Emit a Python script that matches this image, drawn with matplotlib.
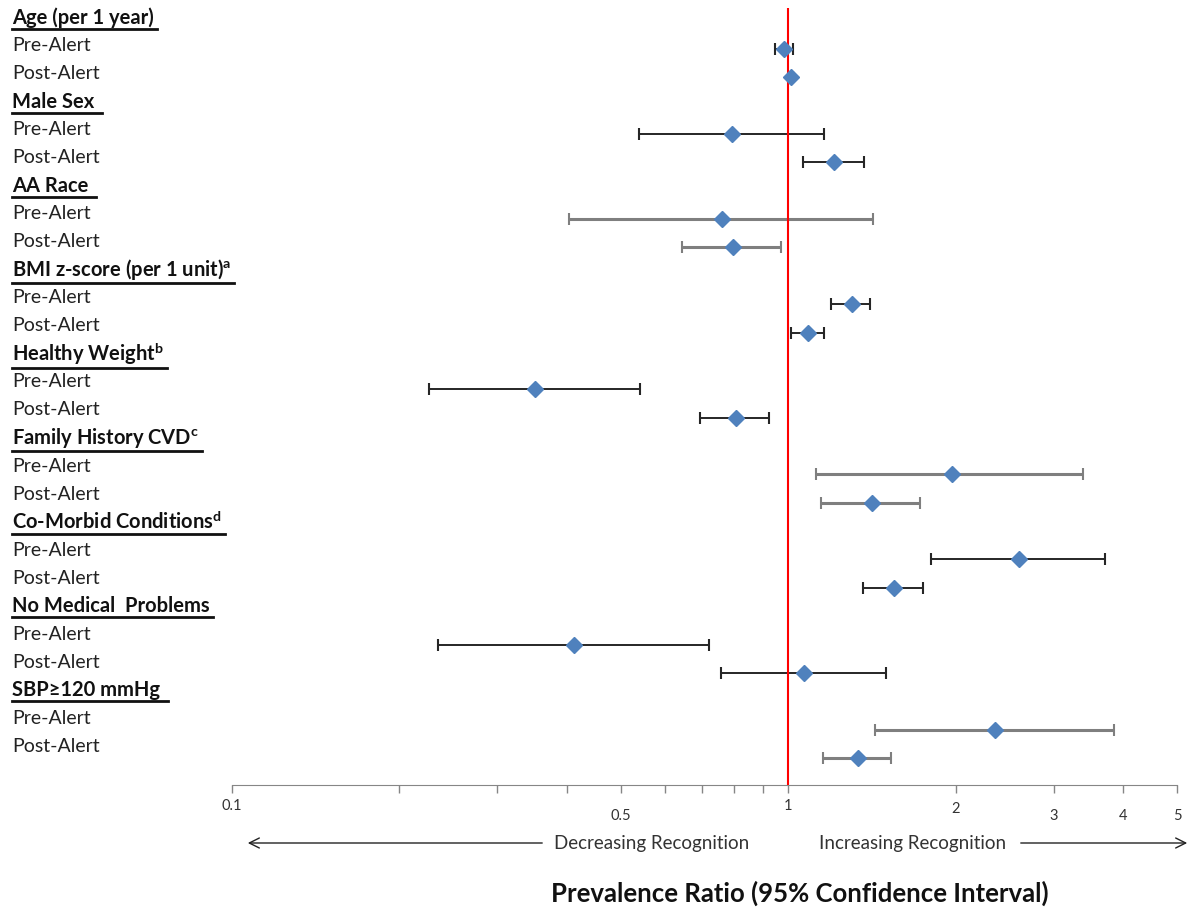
import matplotlib
matplotlib.use('Agg')
import matplotlib.pyplot as plt
import matplotlib.transforms as mtransforms
from matplotlib.lines import Line2D
import numpy as np

plt.rcParams['font.family'] = ['Lato', 'DejaVu Sans']

# prevalence ratios with 95% CI, one entry per variable
groups = ['Age (per 1 year)', 'Male Sex ', 'AA Race ', 'BMI z-score (per 1 unit)',
          'Healthy Weight', 'Family History CVD', 'Co-Morbid Conditions',
          'No Medical  Problems', 'SBP\u2265120 mmHg ']
notes = ['', '', '', 'a', 'b', 'c', 'd', '', '']
pre_pr = [0.982, 0.794, 0.759, 1.300, 0.351, 1.966, 2.597, 0.412, 2.355]
pre_lo = [0.947, 0.539, 0.404, 1.196, 0.226, 1.124, 1.808, 0.235, 1.430]
pre_hi = [1.018, 1.161, 1.418, 1.404, 0.542, 3.395, 3.710, 0.721, 3.860]
post_pr = [1.013, 1.210, 0.795, 1.084, 0.804, 1.412, 1.552, 1.068, 1.335]
post_lo = [1.005, 1.061, 0.645, 1.010, 0.693, 1.143, 1.362, 0.756, 1.154]
post_hi = [1.020, 1.367, 0.972, 1.161, 0.924, 1.725, 1.744, 1.500, 1.532]
gray_bars = ['AA Race ', 'Family History CVD', 'SBP\u2265120 mmHg ']
tick_vals = [0.1, 0.5, 1, 2, 3, 4, 5]
minor_vals = [0.2, 0.3, 0.4, 0.6, 0.7, 0.8, 0.9]

W, H = 1199, 911
fig = plt.figure(figsize=(W / 100, H / 100), dpi=100)
ax = fig.add_axes([232 / W, 1 - 785 / H, (1177 - 232) / W, (785 - 8) / H])
ax.set_xscale('log')
ax.set_xlim(0.1, 5)
ax.set_ylim(26.95, -0.44)

for s in ['left', 'top', 'right']:
    ax.spines[s].set_visible(False)
ax.spines['bottom'].set_color('#868686')
ax.set_yticks([])
ax.set_xticks(sorted(tick_vals + minor_vals))
ax.xaxis.set_minor_locator(matplotlib.ticker.NullLocator())
ax.set_xticklabels([])
ax.tick_params(axis='x', direction='out', length=6, color='#868686', width=1)

ax.axvline(1, color='red', lw=1.5, zorder=3)

mcol = '#4F81BD'
for i, g in enumerate(groups):
    for k, (pr, lo, hi) in enumerate([(pre_pr[i], pre_lo[i], pre_hi[i]),
                                      (post_pr[i], post_lo[i], post_hi[i])]):
        y = 3 * i + 1 + k
        if g in gray_bars:
            ec, lw = '#7f7f7f', 2.2
        else:
            ec, lw = '#262626', 1.4
        line, caps, bars = ax.errorbar([pr], [y], xerr=[[pr - lo], [hi - pr]],
                                       fmt='D', ms=8.5, mfc=mcol, mec=mcol,
                                       ecolor=ec, elinewidth=lw, capsize=4.5,
                                       capthick=1.5, zorder=2)
        for c in caps:
            c.set_color('#1a1a1a')
            c.set_zorder(2.5)
        line.set_zorder(4)

# row labels
lab_tr = mtransforms.blended_transform_factory(fig.transFigure, ax.transData)
headers = []
for i, g in enumerate(groups):
    for k in range(3):
        r = 3 * i + k
        yl = (18 + 28 * r - 20.6) / 28.36
        if k == 0:
            txt = g
            if notes[i]:
                txt = g + r'$^{\mathregular{' + notes[i] + '}}$'
            t = fig.text(12 / W, 0, txt, transform=lab_tr, fontsize=14.5,
                         fontweight='bold', color='#111111', va='center')
            t.set_y(yl)
            headers.append(t)
        else:
            t = fig.text(12 / W, 0, ['Pre-Alert', 'Post-Alert'][k - 1],
                         transform=lab_tr, fontsize=14, color='#222222',
                         va='center')
            t.set_y(yl)

# tick labels (staggered as in the original)
drops = {0.1: 15, 0.5: 22, 1: 15, 2: 17, 3: 22, 4: 22, 5: 22}
for v in tick_vals:
    ax.annotate(str(v), xy=(v, 0), xycoords=('data', 'axes fraction'),
                xytext=(0, -drops[v]), textcoords='offset points',
                ha='center', va='center', fontsize=10.5, color='#333333')

# direction arrows
ya = 1 - 843 / H
fig.text(652 / W, ya, 'Decreasing Recognition', ha='center', va='center',
         fontsize=13.5, color='#333333')
fig.text(913 / W, ya, 'Increasing Recognition', ha='center', va='center',
         fontsize=13.5, color='#333333')
fig.add_artist(matplotlib.patches.FancyArrowPatch(
    (545 / W, ya), (245 / W, ya), transform=fig.transFigure,
    arrowstyle='->', mutation_scale=18, lw=1, color='#222222'))
fig.add_artist(matplotlib.patches.FancyArrowPatch(
    (1018 / W, ya), (1190 / W, ya), transform=fig.transFigure,
    arrowstyle='->', mutation_scale=18, lw=1, color='#222222'))

fig.text(800 / W, 1 - 893 / H, 'Prevalence Ratio (95% Confidence Interval)',
         ha='center', va='center', fontsize=18.5, fontweight='bold', color='#111111')

# underline the group headers
fig.canvas.draw()
rend = fig.canvas.get_renderer()
for t in headers:
    bb = t.get_window_extent(rend)
    y0 = bb.y0 - 1
    fig.add_artist(Line2D([bb.x0 / W, (bb.x1 + 3) / W], [y0 / H, y0 / H],
                          transform=fig.transFigure, color='#111111', lw=2))

fig.savefig('out.png', dpi=100)
